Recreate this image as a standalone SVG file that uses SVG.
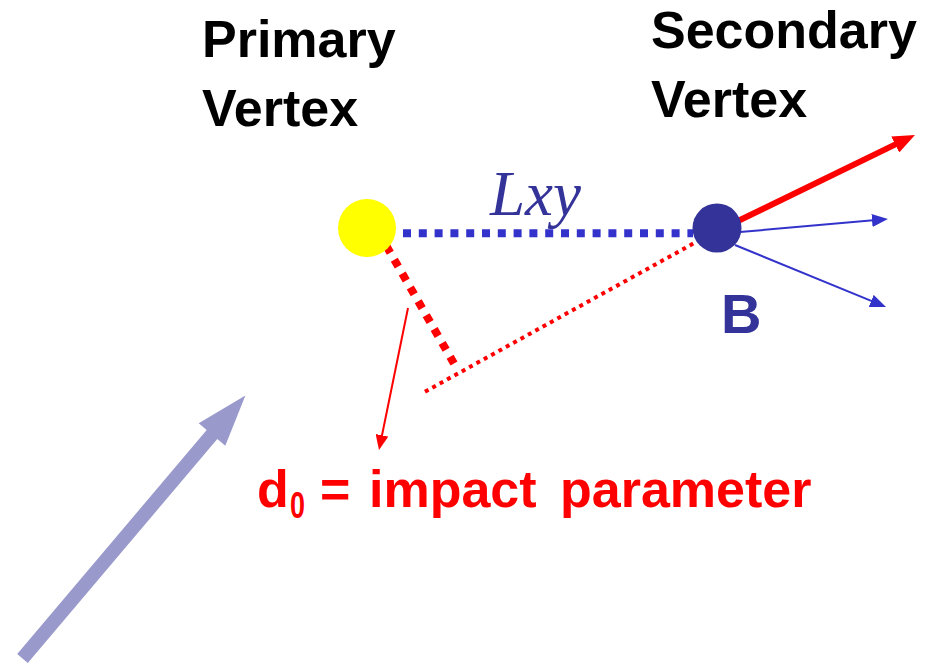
<svg xmlns="http://www.w3.org/2000/svg" width="939" height="663" viewBox="0 0 939 663">
<style>
.lbl{font-family:"Liberation Sans",Arial,sans-serif;font-weight:bold;font-size:52px;fill:#000}
.red{fill:#FF0000}
.navy{fill:#333399}
</style>
<defs>
<marker id="ahBlue" markerUnits="userSpaceOnUse" markerWidth="16" markerHeight="13" refX="4" refY="6.5" orient="auto"><path d="M0,0 L16,6.5 L0,13 z" fill="#3333CC"/></marker>
<marker id="ahRedS" markerUnits="userSpaceOnUse" markerWidth="15" markerHeight="13" refX="3" refY="6.5" orient="auto"><path d="M0,0 L15,6.5 L0,13 z" fill="#FF0000"/></marker>
<marker id="ahRedB" markerUnits="userSpaceOnUse" markerWidth="22" markerHeight="18" refX="6" refY="9" orient="auto"><path d="M0,0 L22,9 L0,18 z" fill="#FF0000"/></marker>
</defs>
<rect width="939" height="663" fill="#fff"/>
<g id="connectors">
<line x1="403" y1="233.3" x2="693" y2="233.3" stroke="#3333CC" stroke-width="8" stroke-dasharray="8 7.8"/>
<line x1="386.3" y1="245.8" x2="454" y2="363.5" stroke="#FF0000" stroke-width="8" stroke-dasharray="8 8"/>
<line x1="425" y1="391.7" x2="697" y2="241.5" stroke="#FF0000" stroke-width="4" stroke-dasharray="4 4.4"/>
<line x1="408" y1="308" x2="381.4" y2="438.2" stroke="#FF0000" stroke-width="2" marker-end="url(#ahRedS)"/>
<line x1="738" y1="221" x2="900.6" y2="141.9" stroke="#FF0000" stroke-width="6" marker-end="url(#ahRedB)"/>
<line x1="740" y1="232" x2="876" y2="220.05" stroke="#3333CC" stroke-width="2" marker-end="url(#ahBlue)"/>
<line x1="735" y1="245" x2="874.9" y2="302.4" stroke="#3333CC" stroke-width="2" marker-end="url(#ahBlue)"/>
<polygon points="17.2,654 206.7,430 198.7,423.2 245.4,395.6 225.3,445.8 217.3,439 27.8,663" fill="#9999CC"/>
</g>
<g id="primary-vertex">
<circle cx="367" cy="228" r="29" fill="#FFFF00"/>
<text class="lbl" x="202" y="57">Primary</text>
<text class="lbl" x="202" y="126">Vertex</text>
</g>
<g id="secondary-vertex">
<circle cx="717" cy="228" r="24.5" fill="#333399"/>
<text class="lbl" x="651" y="48">Secondary</text>
<text class="lbl" x="651" y="117">Vertex</text>
<text class="lbl navy" x="721" y="333" style="font-size:56px">B</text>
</g>
<g id="lxy-label">
<text x="490" y="215" font-family="'Liberation Serif','Times New Roman',serif" font-style="italic" font-size="63" fill="#333399">Lxy</text>
</g>
<g id="impact-label">
<text class="lbl red" x="257" y="507">d</text>
<text class="lbl red" x="290" y="518" style="font-size:36px" textLength="15" lengthAdjust="spacingAndGlyphs">0</text>
<text class="lbl red" y="507"><tspan x="320">=</tspan><tspan x="369">impact</tspan><tspan x="560">parameter</tspan></text>
</g>
</svg>
